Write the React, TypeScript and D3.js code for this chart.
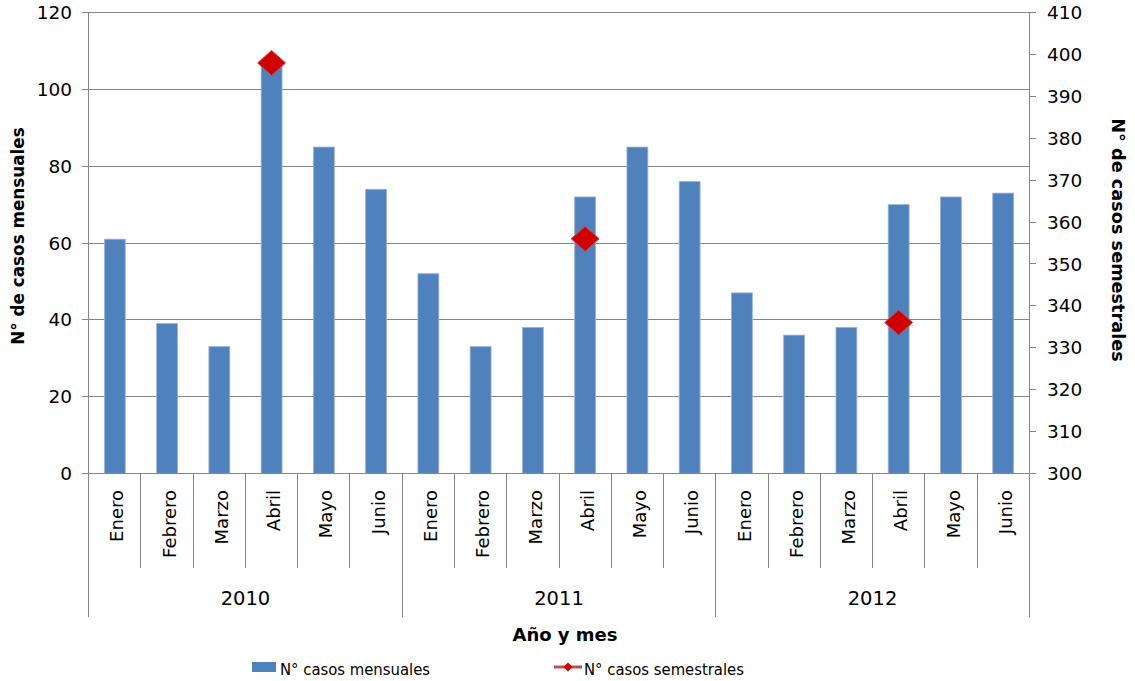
import React from 'react';
import * as d3 from 'd3';

// Monthly and half-year case counts, January–June of each year
const years = ['2010', '2011', '2012'];
const months = ['Enero', 'Febrero', 'Marzo', 'Abril', 'Mayo', 'Junio'];
const monthlyCases = [61, 39, 33, 107, 85, 74, 52, 33, 38, 72, 85, 76, 47, 36, 38, 70, 72, 73];
const semesterCases: (number | null)[] = [
  null, null, null, 398, null, null,
  null, null, null, 356, null, null,
  null, null, null, 336, null, null,
];
const leftTicks = [0, 20, 40, 60, 80, 100, 120];
const rightTicks = [300, 310, 320, 330, 340, 350, 360, 370, 380, 390, 400, 410];

const W = 1135;
const H = 681;
const plot = { left: 88.7, right: 1029.3, top: 12.7, bottom: 473.3 };
const FONT = "'DejaVu Sans', Verdana, sans-serif";
const LEGEND_FONT = "'DejaVu Sans Condensed', 'Liberation Sans', Arial, sans-serif";
const BAR = '#4F81BD';
const RED = '#D00000';
const AXIS = '#868686';

const categories = years.flatMap((y) => months.map((m) => ({ year: y, month: m })));

function diamond(cx: number, cy: number, w: number, h: number) {
  return `M${cx},${cy - h / 2}L${cx + w / 2},${cy}L${cx},${cy + h / 2}L${cx - w / 2},${cy}Z`;
}

export default function App() {
  const x = d3
    .scaleBand<number>()
    .domain(d3.range(categories.length))
    .range([plot.left, plot.right])
    .paddingInner(0.6)
    .paddingOuter(0.3);
  const step = (plot.right - plot.left) / categories.length;
  const yL = d3.scaleLinear().domain([0, 120]).range([plot.bottom, plot.top]);
  const yR = d3.scaleLinear().domain([300, 410]).range([plot.bottom, plot.top]);

  const monthLineBottom = 568;
  const yearLineBottom = 617;

  return (
    <svg
      width={W}
      height={H}
      style={{ position: 'absolute', left: 0, top: 0, background: '#fff' }}
      fontFamily={FONT}
    >
      {/* horizontal gridlines */}
      {leftTicks.slice(1).map((t) => (
        <line
          key={'g' + t}
          x1={plot.left}
          x2={plot.right}
          y1={yL(t)}
          y2={yL(t)}
          stroke="#878787"
          strokeWidth={1}
          shapeRendering="crispEdges"
        />
      ))}

      {/* bars */}
      {monthlyCases.map((v, i) => (
        <rect
          key={'b' + i}
          x={x(i)}
          y={yL(v)}
          width={x.bandwidth()}
          height={yL(0) - yL(v)}
          fill={BAR}
          stroke="#9BB5DA"
          strokeWidth={0.8}
        />
      ))}

      {/* left axis */}
      <line x1={plot.left} x2={plot.left} y1={plot.top} y2={yearLineBottom} stroke={AXIS} shapeRendering="crispEdges" />
      {leftTicks.map((t) => (
        <g key={'l' + t}>
          <line x1={plot.left - 7} x2={plot.left} y1={yL(t)} y2={yL(t)} stroke={AXIS} shapeRendering="crispEdges" />
          <text x={72} y={yL(t)} dy="0.36em" textAnchor="end" fontSize={18.5} fill="#000">
            {t}
          </text>
        </g>
      ))}

      {/* right axis */}
      <line x1={plot.right} x2={plot.right} y1={plot.top} y2={yearLineBottom} stroke={AXIS} shapeRendering="crispEdges" />
      {rightTicks.map((t) => (
        <g key={'r' + t}>
          <line x1={plot.right} x2={plot.right + 7} y1={yR(t)} y2={yR(t)} stroke={AXIS} shapeRendering="crispEdges" />
          <text x={1047} y={yR(t)} dy="0.36em" textAnchor="start" fontSize={18.5} fill="#000">
            {t}
          </text>
        </g>
      ))}

      {/* category axis */}
      <line x1={plot.left} x2={plot.right} y1={plot.bottom} y2={plot.bottom} stroke={AXIS} shapeRendering="crispEdges" />
      {d3.range(categories.length + 1).map((i) => (
        <line
          key={'c' + i}
          x1={plot.left + i * step}
          x2={plot.left + i * step}
          y1={plot.bottom}
          y2={i % months.length === 0 ? yearLineBottom : monthLineBottom}
          stroke={AXIS}
          shapeRendering="crispEdges"
        />
      ))}
      {categories.map((c, i) => {
        const cx = (x(i) as number) + x.bandwidth() / 2;
        return (
          <text
            key={'m' + i}
            transform={`translate(${cx},490) rotate(-90)`}
            dy="0.48em"
            textAnchor="end"
            fontSize={18}
            fill="#000"
          >
            {c.month}
          </text>
        );
      })}
      {years.map((yr, k) => {
        const cx = plot.left + (k * months.length + months.length / 2) * step;
        return (
          <text key={'y' + yr} x={cx} y={605} textAnchor="middle" fontSize={19.5} fill="#000">
            {yr}
          </text>
        );
      })}

      {/* semester markers */}
      {semesterCases.map((v, i) =>
        v == null ? null : (
          <path
            key={'s' + i}
            d={diamond((x(i) as number) + x.bandwidth() / 2, yR(v), 28, 25)}
            fill={RED}
            stroke="#C0504D"
            strokeWidth={1}
          />
        )
      )}

      {/* axis titles */}
      <text
        transform={`translate(24,236) rotate(-90)`}
        textAnchor="middle"
        fontSize={16.8}
        fontWeight="bold"
        fill="#000"
      >
        N° de casos mensuales
      </text>
      <text
        transform={`translate(1112,240) rotate(90)`}
        textAnchor="middle"
        fontSize={17.7}
        fontWeight="bold"
        fill="#000"
      >
        N° de casos semestrales
      </text>
      <text x={565} y={641} textAnchor="middle" fontSize={18} fontWeight="bold" fill="#000">
        Año y mes
      </text>

      {/* legend */}
      <rect x={252} y={662} width={24} height={10} fill={BAR} />
      <text x={280} y={675} fontSize={16.5} fontFamily={LEGEND_FONT} fill="#000">
        N° casos mensuales
      </text>
      <line x1={554} x2={582} y1={667} y2={667} stroke="#C0504D" strokeWidth={3} />
      <path d={diamond(568, 667, 9, 9)} fill={RED} />
      <text x={584} y={675} fontSize={16.5} fontFamily={LEGEND_FONT} fill="#000">
        N° casos semestrales
      </text>
    </svg>
  );
}
